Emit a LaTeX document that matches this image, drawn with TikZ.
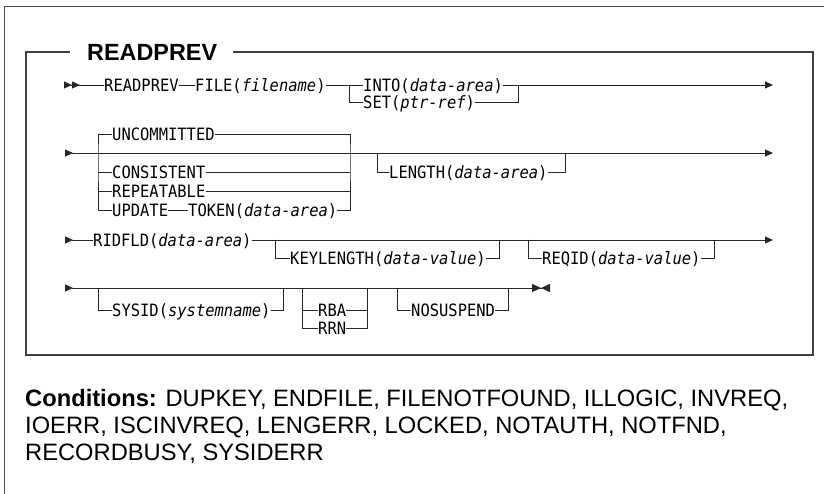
\documentclass[tikz,border=0pt]{standalone}
\usepackage{fontspec}
\setmainfont{Liberation Sans}
\newfontfamily\synfont{DejaVu Sans Mono}[FakeStretch=0.91]
\usetikzlibrary{arrows.meta}

\begin{document}
\begin{tikzpicture}[x=1pt, y=-1pt,
    kw/.style={font=\synfont\fontsize{17}{20}\selectfont, inner sep=0pt,
      text height=12.4pt, text depth=0pt, anchor=west},
    rail/.style={line width=0.9pt, black!85},
    rin/.style={arrows={{Triangle[reversed,length=8pt,width=7pt]}-}},
    rout/.style={arrows={-{Triangle[length=8pt,width=7pt]}}},
    rinout/.style={arrows={{Triangle[reversed,length=8pt,width=7pt]}-{Triangle[length=8pt,width=7pt]}}},
    rbegin/.style={arrows={{Triangle[reversed,length=8pt,width=7pt,sep=0pt]Triangle[reversed,length=8pt,width=7pt]}-}},
    rfinal/.style={arrows={{Triangle[reversed,length=8pt,width=7pt]}-{Triangle[length=9pt,width=8pt,sep=0pt]Triangle[reversed,length=9pt,width=8pt]}}},
    title/.style={font=\bfseries\fontsize{23.4}{28}\selectfont, inner sep=0pt,
      text height=16.8pt, text depth=0pt, anchor=west},
    cond/.style={font=\fontsize{23.7}{27}\selectfont, inner sep=0pt, anchor=base west}]
    \useasboundingbox (0,0) rectangle (824,494);

    % frames
    \draw[line width=1pt, black!70] (4,494) -- (4,7) -- (824,7);
    \node[title] (ttl) at (87,52) {READPREV};
    \draw[line width=1.6pt, black!75] ([xshift=-17pt]ttl.west) -| (26,355) -| (813,52) -- ([xshift=16pt]ttl.east);

    % READPREV FILE, then INTO or SET
    \coordinate (a0) at (64,85);
    \coordinate (a1) at (349,85);
    \coordinate (a2) at (518,85);
    \coordinate (a3) at (773,85);
    \node[kw] (readprev) at (104,85) {READPREV};
    \node[kw] (file) at (195,85) {FILE(\textit{filename})};
    \node[kw] (into) at (363,85) {INTO(\textit{data-area})};
    \node[kw] (set) at (363,102) {SET(\textit{ptr-ref})};
    \draw[rail, rbegin] (a0) -- (readprev.west);
    \draw[rail] (readprev.east) -- (file.west);
    \draw[rail] (file.east) -- (into.west);
    \draw[rail] (a1) |- (set.west);
    \draw[rail] (set.east) -| (a2);
    \draw[rail, rout] (into.east) -- (a3);

    % UNCOMMITTED etc., LENGTH
    \coordinate (b0) at (65,153);
    \coordinate (b1) at (773,153);
    \coordinate (g1) at (98,153);
    \coordinate (g2) at (350,153);
    \coordinate (g3) at (377,153);
    \coordinate (g4) at (565,153);
    \draw[rail, rinout] (b0) -- (b1);
    \node[kw] (uncom) at (112,134) {UNCOMMITTED};
    \node[kw] (cons) at (112,172) {CONSISTENT};
    \node[kw] (rep) at (112,191) {REPEATABLE};
    \node[kw] (upd) at (112,210) {UPDATE};
    \node[kw] (token) at (188,210) {TOKEN(\textit{data-area})};
    \draw[rail] (uncom.west) -| (g1) |- (upd.west);
    \draw[rail] (cons.west) -- (cons.west -| g1);
    \draw[rail] (rep.west) -- (rep.west -| g1);
    \draw[rail] (uncom.east) -| (g2) |- (token.east);
    \draw[rail] (cons.east) -- (cons.east -| g2);
    \draw[rail] (rep.east) -- (rep.east -| g2);
    \draw[rail] (upd.east) -- (token.west);
    \node[kw] (length) at (389,172) {LENGTH(\textit{data-area})};
    \draw[rail] (g3) |- (length.west);
    \draw[rail] (length.east) -| (g4);

    % RIDFLD, KEYLENGTH, REQID
    \coordinate (c0) at (65,240);
    \coordinate (c1) at (773,240);
    \coordinate (h1) at (275,240);
    \coordinate (h2) at (499,240);
    \coordinate (h3) at (528,240);
    \coordinate (h4) at (714,240);
    \node[kw] (ridfld) at (93,240) {RIDFLD(\textit{data-area})};
    \node[kw] (keylen) at (290,258) {KEYLENGTH(\textit{data-value})};
    \node[kw] (reqid) at (542,258) {REQID(\textit{data-value})};
    \draw[rail, rin] (c0) -- (ridfld.west);
    \draw[rail, rout] (ridfld.east) -- (c1);
    \draw[rail] (h1) |- (keylen.west);
    \draw[rail] (keylen.east) -| (h2);
    \draw[rail] (h3) |- (reqid.west);
    \draw[rail] (reqid.east) -| (h4);

    % SYSID, RBA or RRN, NOSUSPEND
    \coordinate (d0) at (65,288);
    \coordinate (d1) at (550,288);
    \coordinate (k1) at (98,288);
    \coordinate (k2) at (283,288);
    \coordinate (k3) at (302,288);
    \coordinate (k4) at (367,288);
    \coordinate (k5) at (397,288);
    \coordinate (k6) at (508,288);
    \draw[rail, rfinal] (d0) -- (d1);
    \node[kw] (sysid) at (112,310) {SYSID(\textit{systemname})};
    \node[kw] (rba) at (318,310) {RBA};
    \node[kw] (rrn) at (318,328) {RRN};
    \node[kw] (nosusp) at (411,310) {NOSUSPEND};
    \draw[rail] (k1) |- (sysid.west);
    \draw[rail] (sysid.east) -| (k2);
    \draw[rail] (k3) |- (rrn.west);
    \draw[rail] (rba.west) -- (rba.west -| k3);
    \draw[rail] (rrn.east) -| (k4);
    \draw[rail] (rba.east) -- (rba.east -| k4);
    \draw[rail] (k5) |- (nosusp.west);
    \draw[rail] (nosusp.east) -| (k6);

    % conditions
    \node[cond] (cond1) at (25,406) {\textbf{Conditions:} DUPKEY, ENDFILE, FILENOTFOUND, ILLOGIC, INVREQ,};
    \node[cond] (cond2) at (25,433) {IOERR, ISCINVREQ, LENGERR, LOCKED, NOTAUTH, NOTFND,};
    \node[cond] (cond3) at (25,460) {RECORDBUSY, SYSIDERR};
\end{tikzpicture}
\end{document}
